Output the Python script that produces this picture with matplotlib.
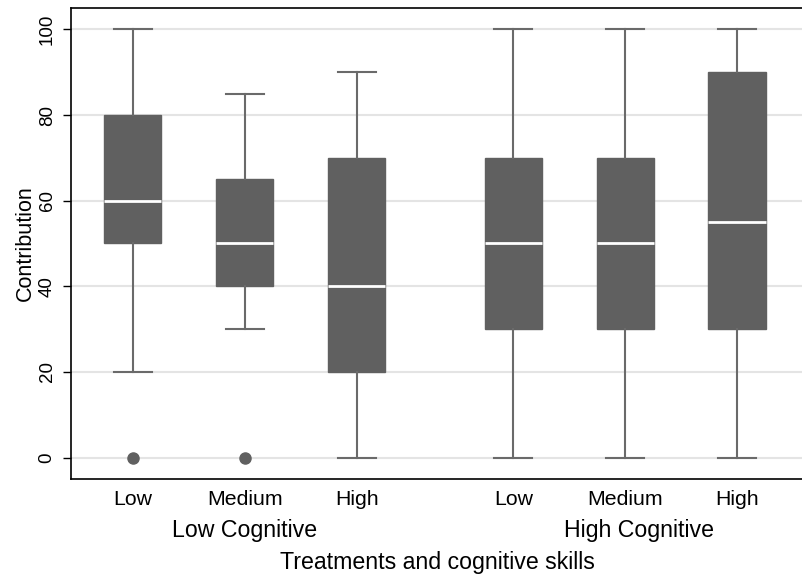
import matplotlib
matplotlib.use('Agg')
from matplotlib import pyplot as plt
from matplotlib import transforms

treatments = ['Low', 'Medium', 'High', 'Low', 'Medium', 'High']
groups = ['Low Cognitive', 'High Cognitive']
whislo = [20, 30, 0, 0, 0, 0]
q1 = [50, 40, 20, 30, 30, 30]
med = [60, 50, 40, 50, 50, 55]
q3 = [80, 65, 70, 70, 70, 90]
whishi = [100, 85, 90, 100, 100, 100]
fliers = [[0], [0], [], [], [], []]

positions = [1, 2, 3, 4.4, 5.4, 6.4]

plt.rcParams['font.family'] = ['Liberation Sans', 'DejaVu Sans']

fig = plt.figure(figsize=(8.03, 5.78), dpi=100)
ax = fig.add_axes([0.0884, 0.1713, 0.9116, 0.8149])

stats = []
for i in range(len(treatments)):
    stats.append({'whislo': whislo[i], 'q1': q1[i], 'med': med[i],
                  'q3': q3[i], 'whishi': whishi[i], 'fliers': fliers[i]})

gray = '#606060'
ax.bxp(stats, positions=positions, widths=0.51, patch_artist=True,
       boxprops=dict(facecolor=gray, edgecolor=gray, linewidth=1),
       whiskerprops=dict(color='#6a6a6a', linewidth=1.5),
       capprops=dict(color='#6a6a6a', linewidth=1.5),
       capwidths=0.34,
       medianprops=dict(color='white', linewidth=2),
       flierprops=dict(marker='o', markerfacecolor=gray, markeredgecolor=gray,
                       markersize=8))

ax.set_xlim(0.446, 6.99)
ax.set_ylim(-5, 105)
ax.set_yticks([0, 20, 40, 60, 80, 100])
ax.set_yticklabels(['0', '20', '40', '60', '80', '100'], rotation=90, va='center')
ax.yaxis.grid(True, color='#e4e4e4', linewidth=1.5)
ax.set_axisbelow(True)
ax.tick_params(axis='y', length=6, width=1, labelsize=13.5, pad=5)
ax.tick_params(axis='x', length=0, labelsize=15.3, pad=8)
ax.set_xticks(positions)
ax.set_xticklabels(treatments)
ax.spines['right'].set_visible(False)
for s in ['top', 'left', 'bottom']:
    ax.spines[s].set_linewidth(1.2)

ax.set_ylabel('Contribution', fontsize=15.5, labelpad=2)

trans = transforms.blended_transform_factory(ax.transData, fig.transFigure)
ax.text(2, 1 - 530 / 578, groups[0], transform=trans, ha='center', va='center', fontsize=16.7)
ax.text(5.52, 1 - 530 / 578, groups[1], transform=trans, ha='center', va='center', fontsize=16.7)
fig.text(0.5443, 1 - 563 / 578, 'Treatments and cognitive skills', ha='center', va='center', fontsize=16.7)

plt.savefig('out.png', dpi=100)
